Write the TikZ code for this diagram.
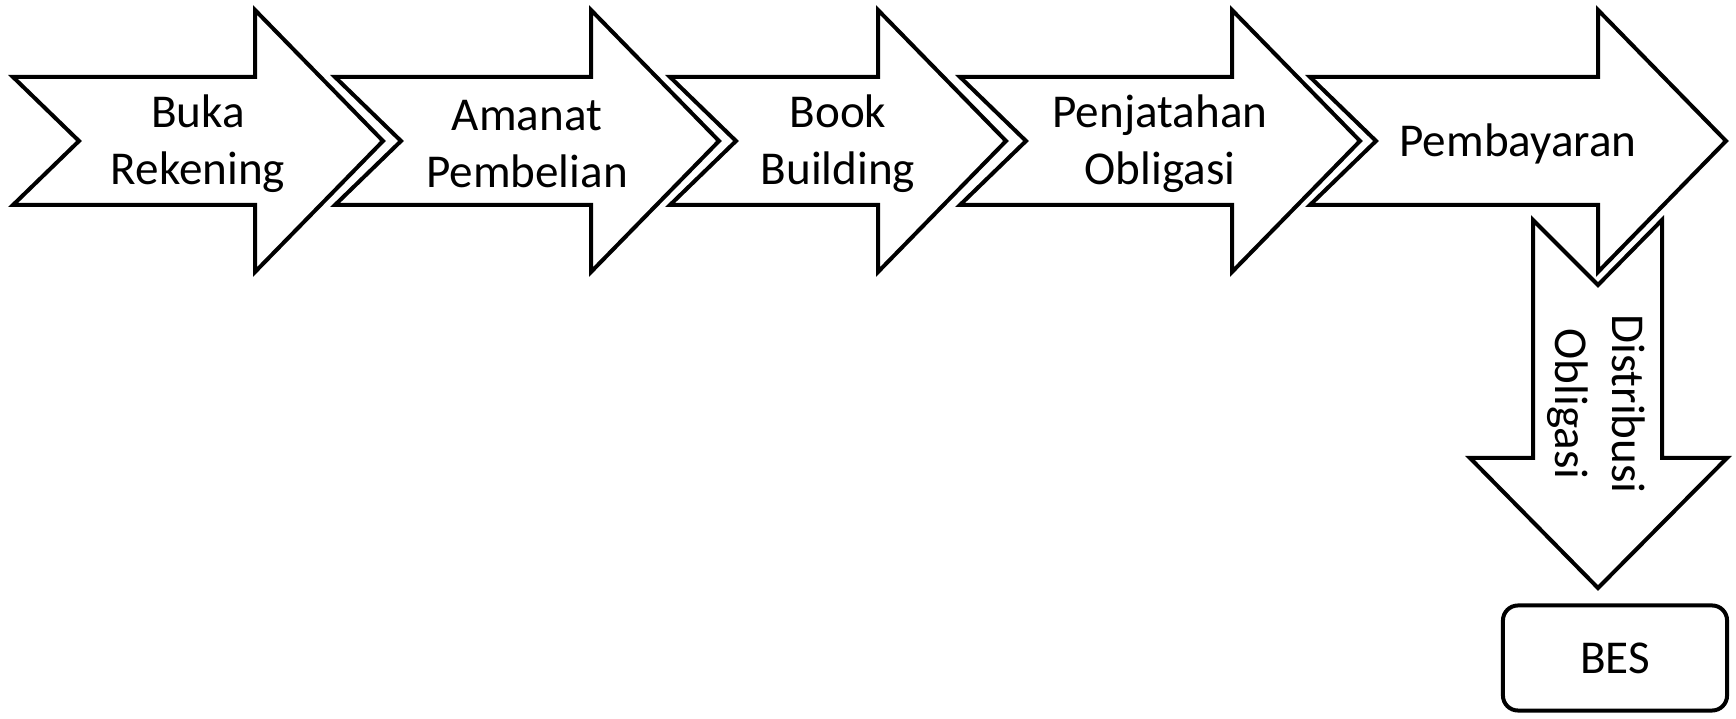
\documentclass[tikz,border=0pt]{standalone}
\usepackage{fontspec}
\setmainfont{Carlito}
\tikzset{
	steparrow/.style={draw=black, line width=0.04cm, fill=white, line join=miter},
	steplabel/.style={align=center, font=\fontsize{13.4}{16.2}\selectfont},
}

\begin{document}
\begin{tikzpicture}[x=0.01cm, y=-0.01cm]
		\useasboundingbox (0,0) rectangle (1736,719);

		% Process arrows
		\foreach \l/\h/\name/\txt in {13/255/buka/{Buka\\Rekening}, 335/591/amanat/{Amanat\\Pembelian}, 670/878/book/{Book\\Building}, 960/1232/penjatahan/{Penjatahan\\Obligasi}, 1310/1598/bayar/{Pembayaran}}{
			\draw[steparrow] (\l,77) -- (\h,77) -- (\h,10) -- (\h+128,141) -- (\h,272) -- (\h,205) -- (\l,205) -- (\l+66,141) -- cycle;
			\node[steplabel] (\name) at ({(\l+\h+128)/2},144) {\txt};
		}

		% Down arrow
		\draw[steparrow] (1533,220) -- (1598,285) -- (1662,220) -- (1662,458) -- (1727,458) -- (1598,588) -- (1470,458) -- (1533,458) -- cycle;
		\node[steplabel, rotate=-90] (distribusi) at (1596,404) {Distribusi\\Obligasi};

		% End box
		\node[steplabel, draw, line width=0.04cm, rounded corners=0.15cm, minimum width=2.24cm, minimum height=1.05cm] (bes) at (1615,658) {BES};
	\end{tikzpicture}
\end{document}
